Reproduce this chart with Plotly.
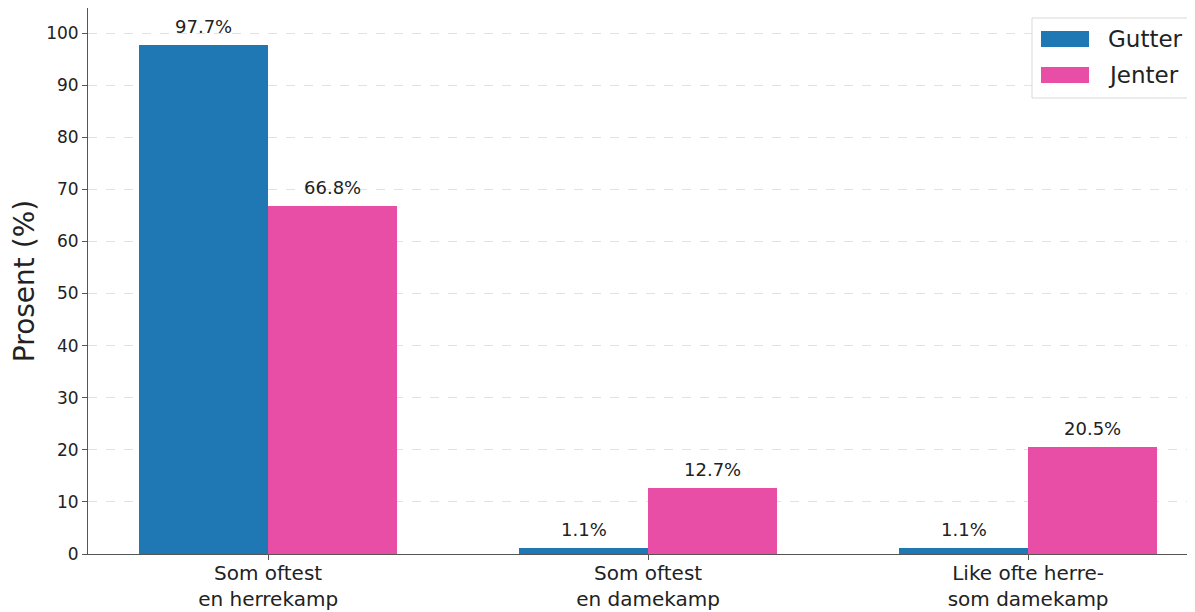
import plotly.graph_objects as go

categories = ["Som oftest<br>en herrekamp", "Som oftest<br>en damekamp", "Like ofte herre-<br>som damekamp"]
series_names = ["Gutter", "Jenter"]
gutter = [97.7, 1.1, 1.1]
jenter = [66.8, 12.7, 20.5]
yticks = [0, 10, 20, 30, 40, 50, 60, 70, 80, 90, 100]

BLUE = "#1f77b4"
PINK = "#e84ea5"
TXT = "#222222"
FONT = "DejaVu Sans"
xpos = list(range(len(categories)))
w = 0.34

# page body has an 8px default margin; size the figure to fit the window
W, H = 1187, 604
ML, MT, MB, MR = 80, 0, 58, 0
PW = W - ML - MR
PH = H - MT - MB


def px_to_paper(xp, yp):
    # xp, yp are window pixels
    return (xp - 8 - ML) / PW, (H - MB - (yp - 8)) / PH


fig = go.Figure()
for name, vals, col, off in [(series_names[0], gutter, BLUE, -w / 2), (series_names[1], jenter, PINK, w / 2)]:
    xs = [p + off for p in xpos]
    fig.add_bar(x=xs, y=vals, width=w, name=name,
                marker=dict(color=col, line=dict(width=0)),
                showlegend=False)
    for xv, yv in zip(xs, vals):
        fig.add_annotation(x=xv, y=yv, xref="x", yref="y", text=f"{yv:.1f}%",
                           showarrow=False, yanchor="bottom", yshift=6,
                           font=dict(size=18, color=TXT, family=FONT))

# legend drawn as a box with wide swatches, like the reference
x0, y0 = px_to_paper(1032, 18)
x1, y1 = px_to_paper(1191, 98)
fig.add_shape(type="rect", xref="paper", yref="paper", x0=x0, x1=x1, y0=y1, y1=y0,
              line=dict(color="#d9d9d9", width=1), fillcolor="rgba(255,255,255,0.9)", layer="above")
for i, (name, col) in enumerate(zip(series_names, [BLUE, PINK])):
    cy = 39 + i * 36
    sx0, sy0 = px_to_paper(1041, cy - 8)
    sx1, sy1 = px_to_paper(1089, cy + 8)
    fig.add_shape(type="rect", xref="paper", yref="paper", x0=sx0, x1=sx1, y0=sy1, y1=sy0,
                  line=dict(width=0), fillcolor=col, layer="above")
    tx, ty = px_to_paper(1106, cy)
    fig.add_annotation(xref="paper", yref="paper", x=tx, y=ty, xanchor="left", yanchor="middle",
                       text=name, showarrow=False, font=dict(size=23, color=TXT, family=FONT))

fig.update_layout(
    width=W, height=H,
    margin=dict(l=ML, r=MR, t=MT, b=MB, autoexpand=False),
    paper_bgcolor="white", plot_bgcolor="white",
    font=dict(family=FONT, color=TXT, size=17),
    barmode="overlay", bargap=0,
    showlegend=False,
    xaxis=dict(range=[-0.474, -0.474 + PW / 380.0], tickmode="array", tickvals=xpos, ticktext=categories,
               showgrid=False, zeroline=False, showline=True, linecolor="#555", linewidth=1,
               ticks="outside", ticklen=5, tickcolor="#555", ticklabelstandoff=-4,
               tickfont=dict(size=20, family=FONT, color=TXT), automargin=False),
    yaxis=dict(range=[0, 104.8], tickmode="array", tickvals=yticks,
               showgrid=True, gridcolor="#e2e2e2", griddash="dash", gridwidth=1,
               zeroline=False, showline=True, linecolor="#555", linewidth=1,
               ticks="outside", ticklen=5, tickcolor="#555",
               tickfont=dict(size=17, family=FONT, color=TXT), automargin=False,
               title=dict(text="Prosent (%)", font=dict(size=28, family=FONT, color=TXT), standoff=9)),
)

fig.write_html("out.html")
